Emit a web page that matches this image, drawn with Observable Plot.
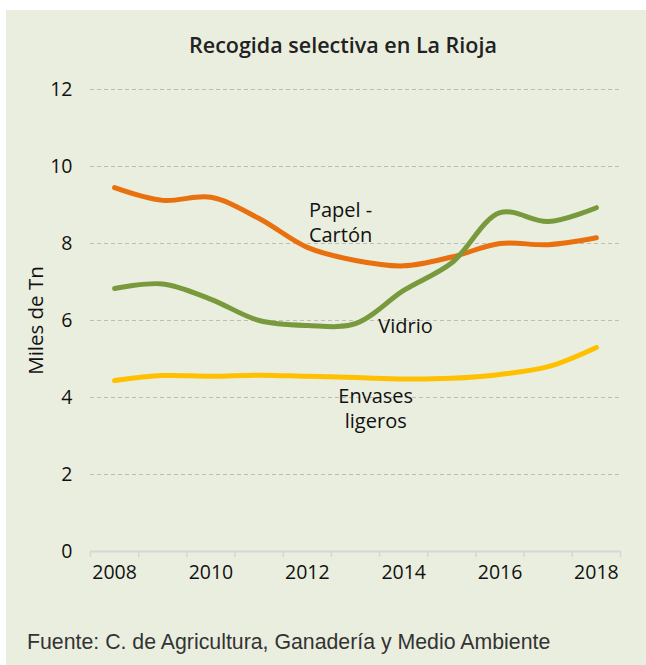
<!DOCTYPE html>
<html>
<head>
<meta charset="utf-8">
<script src="https://cdn.jsdelivr.net/npm/d3@7"></script>
<script src="https://cdn.jsdelivr.net/npm/@observablehq/plot@0.6"></script>
<style>
  html, body { margin: 0; padding: 0; background: #ffffff; }
  #page { position: relative; width: 646px; height: 665px; overflow: hidden; }
  #panel { position: absolute; left: 6px; top: 10px; width: 640px; height: 655px; background: #eaeedf; }
  #title { position: absolute; left: 0; width: 686px; top: 30px; text-align: center;
           font-family: "Open Sans", sans-serif; font-weight: 600; font-size: 21.5px; color: #222; }
  #chart { position: absolute; left: 0; top: 0; }
  #caption { position: absolute; left: 27px; top: 630px; font-family: "Liberation Sans", Arial, sans-serif;
             font-size: 21.3px; color: #333; white-space: nowrap; }
</style>
</head>
<body>
<div id="page">
  <div id="panel"></div>
  <div id="title">Recogida selectiva en La Rioja</div>
  <div id="chart"></div>
  <div id="caption">Fuente: C. de Agricultura, Ganadería y Medio Ambiente</div>
</div>
<script>
const years = [2008, 2009, 2010, 2011, 2012, 2013, 2014, 2015, 2016, 2017, 2018];
const papel = [9.45, 9.12, 9.2, 8.65, 7.9, 7.56, 7.42, 7.65, 8.0, 7.97, 8.15];
const vidrio = [6.83, 6.95, 6.55, 6.0, 5.87, 5.92, 6.78, 7.5, 8.8, 8.57, 8.93];
const envases = [4.44, 4.57, 4.55, 4.58, 4.55, 4.52, 4.48, 4.5, 4.6, 4.8, 5.3];
const seriesNames = ["Papel - Cartón", "Vidrio", "Envases ligeros"];
const seriesColors = ["#e8700f", "#789a3c", "#ffc000"];
const yTicks = [0, 2, 4, 6, 8, 10, 12];
const xTickLabels = [2008, 2010, 2012, 2014, 2016, 2018];
const labelTexts = ["Papel -\nCartón", "Vidrio", "Envases\nligeros"];
const labelX = [2012.69, 2014.04, 2013.42];
const labelY = [8.57, 5.89, 3.74];

const seriesValues = [papel, vidrio, envases];
const rows = seriesNames.flatMap((name, i) => years.map((yr, j) => ({year: yr, value: seriesValues[i][j], series: name})));
const labels = labelTexts.map((t, i) => ({text: t, x: labelX[i], y: labelY[i]}));
const boundaries = years.map(y => y - 0.5).concat([years[years.length - 1] + 0.5]);

const chart = Plot.plot({
  width: 646,
  height: 600,
  marginTop: 89,
  marginBottom: 49,
  marginLeft: 90,
  marginRight: 26,
  style: {background: "transparent", fontFamily: "Open Sans, sans-serif", fontSize: "19px", color: "#111"},
  x: {domain: [2007.5, 2018.5]},
  y: {domain: [0, 12]},
  color: {domain: seriesNames, range: seriesColors},
  marks: [
    Plot.gridY(yTicks.filter(d => d > 0), {stroke: "#bdbdbd", strokeOpacity: 1, strokeDasharray: "4,3", strokeWidth: 1.2}),
    Plot.axisY(yTicks, {tickSize: 0, tickPadding: 18, fontSize: 19.5, label: null}),
    Plot.axisY({tickSize: 0, ticks: [], fontSize: 20.5, label: "Miles de Tn", labelAnchor: "center", labelArrow: "none", labelOffset: 62}),
    Plot.axisX(boundaries, {tickSize: 6, stroke: "#d6d6d6", strokeWidth: 1.5, text: null, label: null}),
    Plot.axisX(xTickLabels, {tickSize: 0, tickPadding: 14, fontSize: 19.5, tickFormat: d => String(d), label: null}),
    Plot.ruleY([0], {stroke: "#d6d6d6", strokeWidth: 2}),
    Plot.line(rows, {x: "year", y: "value", z: "series", stroke: "series", strokeWidth: 5, curve: "catmull-rom"}),
    Plot.text(labels, {x: "x", y: "y", text: "text", fontSize: 20, lineHeight: 1.22, fill: "#111", textAnchor: "middle"})
  ]
});
document.getElementById("chart").appendChild(chart);
</script>
</body>
</html>
